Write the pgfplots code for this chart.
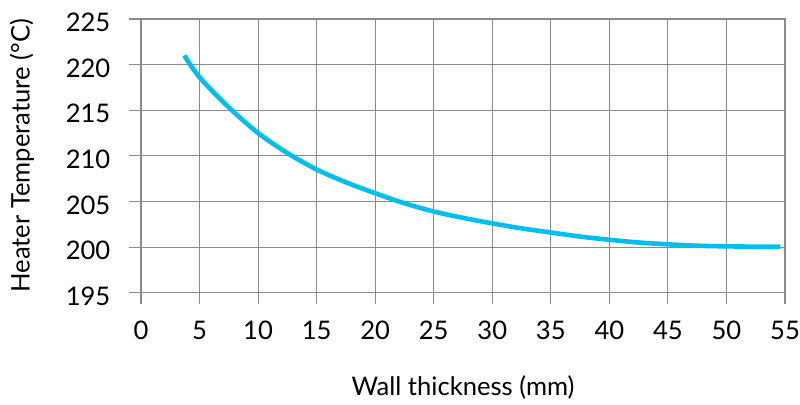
\documentclass[border=0pt]{standalone}
\usepackage{fontspec}
\setmainfont{Lato}
\usepackage{pgfplots}
\pgfplotsset{compat=1.18}
\definecolor{curve}{HTML}{00BFEF}
\definecolor{gridc}{HTML}{8A8A8A}
\begin{document}
\begin{tikzpicture}
\begin{axis}[
  name=ax,
  scale only axis,
  width=322pt, height=136.85pt,
  xmin=0, xmax=55, ymin=195, ymax=225,
  xtick={0,5,...,55}, ytick={195,200,...,225},
  grid=major,
  major grid style={draw=gridc, line width=0.55pt},
  axis line style={draw=gridc, line width=0.55pt},
  tick style={draw=gridc, line width=0.55pt},
  tick align=outside,
  xtick pos=bottom, ytick pos=left,
  major tick length=5.8pt,
  /pgf/number format/assume math mode=true,
  ticklabel style={font=\fontsize{12.8}{15}\selectfont},
  xticklabel style={anchor=center, yshift=-13pt},
  yticklabel style={anchor=east, xshift=-6pt, yshift=-1.7pt},
  xlabel={Wall thickness (mm)},
  ylabel={Heater Temperature (°C)},
  label style={font=\fontsize{12.8}{15}\selectfont},
  xlabel style={at={(axis description cs:0.5,0)}, anchor=center, yshift=-47.6pt},
  ylabel style={at={(axis description cs:0,0.5)}, anchor=center, yshift=59.5pt},
  clip=false,
]
\addplot[curve, line width=2.3pt, smooth] coordinates {
 (3.7,221.0) (5,218.6) (7.5,215.3) (10,212.5) (12.5,210.3) (15,208.5)
 (17.5,207.1) (20,205.9) (22.5,204.8) (25,203.9) (27.5,203.2) (30,202.6)
 (32.5,202.05) (35,201.6) (37.5,201.15) (40,200.8) (42.5,200.5) (45,200.3)
 (47.5,200.15) (50,200.08) (52.5,200.05) (54.6,200.05)
};
\end{axis}
\pgfresetboundingbox
\path[use as bounding box] ([xshift=-70.5pt,yshift=-56.15pt]ax.south west) rectangle ([xshift=7.5pt,yshift=9.5pt]ax.north east);
\end{tikzpicture}
\end{document}
